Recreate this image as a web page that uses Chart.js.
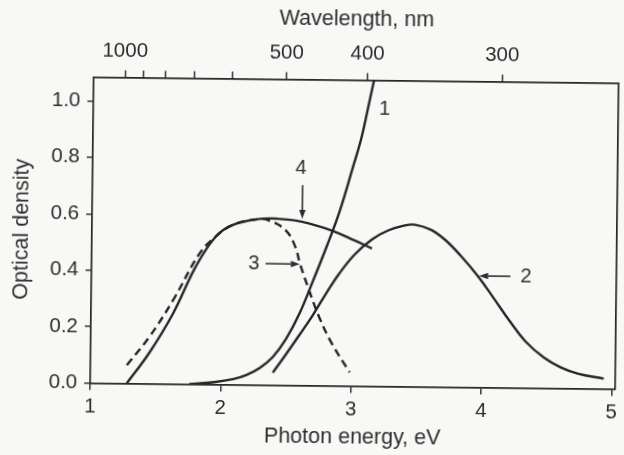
<!DOCTYPE html>
<html>
<head>
<meta charset="utf-8">
<script src="https://cdn.jsdelivr.net/npm/chart.js@4/dist/chart.umd.min.js"></script>
<style>
  html, body { margin: 0; padding: 0; background: #f8f8f6; overflow: hidden; }
  /* whole figure sits a little askew */
  #odChart { display: block; transform: rotate(0.65deg); }
</style>
</head>
<body>
<canvas id="odChart" width="624" height="455"></canvas>
<script>
// photon energy (eV) / optical density for the four spectra
const curve1E  = [1.76, 1.95, 2.1, 2.2, 2.3, 2.4, 2.5, 2.6, 2.7, 2.8, 2.9, 3.0, 3.06, 3.11, 3.15, 3.17];
const curve1OD = [0, 0.008, 0.02, 0.035, 0.06, 0.1, 0.165, 0.255, 0.37, 0.49, 0.62, 0.78, 0.88, 0.99, 1.08, 1.12];

const curve2E  = [2.40, 2.5, 2.6, 2.7, 2.8, 2.9, 3.02, 3.15, 3.27, 3.4, 3.48, 3.6, 3.71, 3.83, 3.97, 4.09, 4.22, 4.34, 4.48, 4.61, 4.74, 4.94];
const curve2OD = [0.044, 0.11, 0.178, 0.248, 0.325, 0.397, 0.467, 0.52, 0.552, 0.571, 0.574, 0.557, 0.522, 0.467, 0.392, 0.316, 0.232, 0.163, 0.108, 0.074, 0.053, 0.036];

const curve3E  = [1.28, 1.45, 1.63, 1.83, 1.95, 2.08, 2.28, 2.36, 2.485, 2.56, 2.6, 2.67, 2.75, 2.85, 2.99];
const curve3OD = [0.065, 0.166, 0.298, 0.465, 0.524, 0.566, 0.588, 0.583, 0.55, 0.493, 0.43, 0.339, 0.244, 0.15, 0.048];

const curve4E  = [1.28, 1.45, 1.63, 1.8, 1.95, 2.08, 2.28, 2.41, 2.61, 2.84, 3.02, 3.15];
const curve4OD = [0, 0.109, 0.25, 0.417, 0.524, 0.566, 0.588, 0.59, 0.58, 0.55, 0.515, 0.488];

// axis ticks
const energyTicks = [1, 2, 3, 4, 5];
const odTicks = [0, 0.2, 0.4, 0.6, 0.8, 1.0];
const wavelengthTicks = [1000, 900, 800, 700, 600, 500, 400, 300];
const wavelengthLabelled = [1000, 500, 400, 300];

// curve numbers with their arrows (energy, OD)
const curveNotes = [
  { text: "1", x: 3.235, y: 0.983 },
  { text: "2", x: 4.335, y: 0.395, from: [4.215, 0.395], to: [3.975, 0.395] },
  { text: "3", x: 2.245, y: 0.43, from: [2.335, 0.43], to: [2.598, 0.43] },
  { text: "4", x: 2.598, y: 0.77, from: [2.613, 0.71], to: [2.613, 0.59] }
];

const HC = 1239.84; // eV*nm
const INK = "#262626";
const TEXT = "#2e2e2e";
const FONT = "'Liberation Sans', Arial, sans-serif";

const toPoints = (xs, ys) => xs.map((x, i) => ({ x: x, y: ys[i] }));

function curve(xs, ys, dashed) {
  return {
    data: toPoints(xs, ys),
    borderColor: INK,
    borderWidth: 2.4,
    borderDash: dashed ? [8, 5] : [],
    pointRadius: 0,
    tension: 0.4,
    xAxisID: "x",
    yAxisID: "y"
  };
}

const notesPlugin = {
  id: "curveNotes",
  afterDatasetsDraw(chart) {
    const { ctx, scales: { x, y } } = chart;
    ctx.save();
    ctx.fillStyle = TEXT;
    ctx.strokeStyle = INK;
    ctx.font = "20px " + FONT;
    ctx.textAlign = "center";
    ctx.textBaseline = "middle";
    curveNotes.forEach(n => {
      ctx.fillText(n.text, x.getPixelForValue(n.x), y.getPixelForValue(n.y));
      if (!n.from) return;
      const x0 = x.getPixelForValue(n.from[0]), y0 = y.getPixelForValue(n.from[1]);
      const x1 = x.getPixelForValue(n.to[0]), y1 = y.getPixelForValue(n.to[1]);
      const ang = Math.atan2(y1 - y0, x1 - x0);
      const len = 9, half = 3.2;
      ctx.lineWidth = 1.5;
      ctx.beginPath();
      ctx.moveTo(x0, y0);
      ctx.lineTo(x1 - Math.cos(ang) * len, y1 - Math.sin(ang) * len);
      ctx.stroke();
      ctx.beginPath();
      ctx.moveTo(x1, y1);
      ctx.lineTo(x1 - Math.cos(ang) * len - Math.sin(ang) * half, y1 - Math.sin(ang) * len + Math.cos(ang) * half);
      ctx.lineTo(x1 - Math.cos(ang) * len + Math.sin(ang) * half, y1 - Math.sin(ang) * len - Math.cos(ang) * half);
      ctx.closePath();
      ctx.fill();
    });
    ctx.restore();
  }
};

const axisLine = { display: true, color: INK, width: 1.7 };
const tickMarks = (len) => ({ display: true, drawOnChartArea: false, drawTicks: true, tickLength: len, color: INK, lineWidth: 1.4 });
const tickFont = { family: FONT, size: 20.5 };
const titleFont = { family: FONT, size: 21.5 };

new Chart(document.getElementById("odChart"), {
  type: "line",
  data: {
    datasets: [
      curve(curve1E, curve1OD, false),
      curve(curve2E, curve2OD, false),
      curve(curve4E, curve4OD, false),
      curve(curve3E, curve3OD, true)
    ]
  },
  options: {
    responsive: false,
    animation: false,
    events: [],
    layout: { padding: { left: 0, top: 0, right: 3.3, bottom: 0 } },
    plugins: { legend: { display: false }, tooltip: { enabled: false } },
    scales: {
      x: {
        type: "linear",
        position: "bottom",
        min: 1,
        max: 5.03,
        border: axisLine,
        grid: tickMarks(7),
        afterBuildTicks: s => { s.ticks = energyTicks.map(v => ({ value: v })); },
        afterFit: s => { s.height = 69.5; },
        ticks: { color: TEXT, font: tickFont, padding: 5, autoSkip: false, maxRotation: 0 },
        title: { display: true, text: "Photon energy, eV", color: TEXT, font: titleFont, padding: { top: 0, bottom: 5.5 } }
      },
      xTop: {
        type: "linear",
        position: "top",
        min: 1,
        max: 5.03,
        border: axisLine,
        grid: tickMarks(7),
        afterBuildTicks: s => { s.ticks = wavelengthTicks.map(nm => ({ value: HC / nm })); },
        afterFit: s => { s.height = 79.4; },
        ticks: {
          color: TEXT, font: tickFont, padding: 6.5, autoSkip: false, maxRotation: 0,
          callback: v => {
            const nm = Math.round(HC / v);
            return wavelengthLabelled.includes(nm) ? String(nm) : "";
          }
        },
        title: { display: true, text: "Wavelength, nm", color: TEXT, font: titleFont, padding: { top: 6.5, bottom: 0 } }
      },
      y: {
        type: "linear",
        position: "left",
        min: 0,
        max: 1.085,
        border: axisLine,
        grid: tickMarks(6),
        afterBuildTicks: s => { s.ticks = odTicks.map(v => ({ value: v })); },
        afterFit: s => { s.width = 92; },
        ticks: { color: TEXT, font: tickFont, padding: 7, callback: v => v.toFixed(1) },
        title: { display: true, text: "Optical density", color: TEXT, font: titleFont, padding: { top: 9.2, bottom: 0 } }
      },
      yRight: {
        type: "linear",
        position: "right",
        min: 0,
        max: 1.085,
        border: axisLine,
        grid: { display: false, drawTicks: false },
        ticks: { display: false },
        afterFit: s => { s.width = 0; }
      }
    }
  },
  plugins: [notesPlugin]
});
</script>
</body>
</html>
